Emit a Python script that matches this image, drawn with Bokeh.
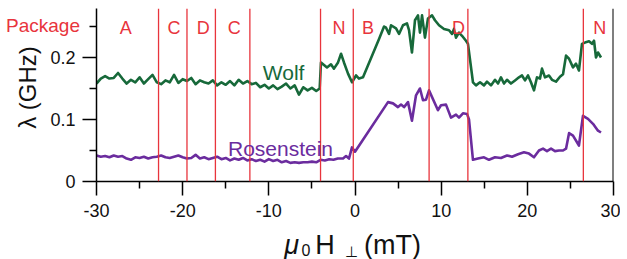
from bokeh.plotting import figure
from bokeh.models import Range1d, FixedTicker, Span, Label
from bokeh.core.properties import value
from bokeh.embed import file_html
from bokeh.resources import INLINE
import math

# ---------------- data ----------------
wolf_x = [-30.0, -29.5, -29.0, -28.5, -28.0, -27.5, -27.0, -26.5, -26.0, -25.5,
          -25.0, -24.5, -24.0, -23.5, -23.0, -22.5, -22.0, -21.5, -21.0, -20.5,
          -20.0, -19.5, -19.0, -18.5, -18.0, -17.5, -17.0, -16.5, -16.0, -15.5,
          -15.0, -14.5, -14.0, -13.5, -13.0, -12.5, -12.0, -11.5, -11.0, -10.5,
          -10.0, -9.5, -9.0, -8.5, -8.0, -7.5, -7.0, -6.5, -6.0, -5.5,
          -5.0, -4.5, -4.1, -3.95, -3.25, -2.79, -2.44, -1.97, -1.62, -1.28,
          -0.81, -0.35, 0.12, 0.46, 0.93, 2.79, 3.37, 3.6, 3.95, 4.18,
          4.76, 5.11, 5.57, 6.03, 6.27, 6.61, 6.96, 7.31, 7.54, 7.78,
          8.12, 8.47, 8.94, 9.28, 9.75, 10.33, 10.91, 11.26, 11.49, 11.72,
          12.07, 12.42, 12.88, 13.11, 13.69, 14.04, 14.51, 14.97, 15.32, 15.78,
          16.25, 16.6, 16.94, 17.29, 17.64, 18.1, 18.57, 19.03, 19.38, 19.73,
          20.08, 20.42, 20.77, 21.12, 21.47, 21.7, 22.05, 22.51, 22.86, 23.33,
          23.79, 24.14, 24.49, 24.84, 25.3, 25.65, 25.99, 26.34, 26.69, 27.16,
          27.5, 27.74, 27.97, 28.2, 28.55]
wolf_y = [0.158, 0.166, 0.170, 0.166, 0.167, 0.175, 0.166, 0.158, 0.164, 0.160,
          0.168, 0.158, 0.165, 0.172, 0.160, 0.157, 0.163, 0.160, 0.172, 0.159,
          0.165, 0.162, 0.167, 0.157, 0.163, 0.160, 0.158, 0.163, 0.155, 0.160,
          0.156, 0.162, 0.155, 0.164, 0.158, 0.162, 0.157, 0.159, 0.152, 0.156,
          0.150, 0.155, 0.149, 0.153, 0.158, 0.150, 0.155, 0.140, 0.152, 0.147,
          0.151, 0.146, 0.150, 0.192, 0.184, 0.189, 0.182, 0.192, 0.206, 0.192,
          0.174, 0.160, 0.171, 0.166, 0.168, 0.230, 0.250, 0.248, 0.238, 0.252,
          0.247, 0.238, 0.252, 0.255, 0.244, 0.208, 0.260, 0.268, 0.240, 0.268,
          0.232, 0.263, 0.268, 0.260, 0.252, 0.246, 0.244, 0.238, 0.246, 0.232,
          0.240, 0.235, 0.227, 0.222, 0.160, 0.155, 0.160, 0.155, 0.161, 0.155,
          0.164, 0.158, 0.168, 0.158, 0.164, 0.158, 0.163, 0.168, 0.171, 0.163,
          0.171, 0.160, 0.147, 0.168, 0.166, 0.182, 0.168, 0.171, 0.164, 0.161,
          0.169, 0.173, 0.203, 0.198, 0.184, 0.190, 0.179, 0.222, 0.224, 0.226,
          0.222, 0.227, 0.200, 0.208, 0.200]

ros_x = [-30.0, -29.5, -29.0, -28.5, -28.0, -27.5, -27.0, -26.5, -26.0, -25.5,
         -25.0, -24.5, -24.0, -23.5, -23.0, -22.5, -22.0, -21.5, -21.0, -20.5,
         -20.0, -19.5, -19.0, -18.5, -18.0, -17.5, -17.0, -16.5, -16.0, -15.5,
         -15.0, -14.5, -14.0, -13.5, -13.0, -12.5, -12.0, -11.5, -11.0, -10.5,
         -10.0, -9.5, -9.0, -8.5, -8.0, -7.5, -7.0, -6.5, -6.0, -5.5,
         -5.0, -4.5, -4.0, -3.5, -3.0, -2.5, -2.0, -1.39, -1.04, -0.7,
         -0.35, 0.0, 3.83, 4.41, 4.99, 5.34, 5.69, 6.15, 6.61, 7.08,
         7.54, 7.89, 8.24, 8.59, 9.63, 9.98, 10.56, 11.14, 11.72, 12.07,
         12.53, 13.0, 13.23, 13.69, 14.27, 14.97, 15.55, 16.25, 16.94, 17.64,
         18.22, 18.92, 19.61, 20.19, 20.77, 21.35, 21.82, 22.28, 22.75, 23.21,
         23.67, 24.14, 24.49, 24.84, 25.3, 25.99, 26.46, 27.04, 27.62, 28.2,
         28.55]
ros_y = [0.042, 0.040, 0.041, 0.039, 0.042, 0.040, 0.041, 0.037, 0.035, 0.039,
         0.038, 0.040, 0.037, 0.039, 0.040, 0.042, 0.039, 0.038, 0.040, 0.042,
         0.039, 0.037, 0.038, 0.043, 0.037, 0.039, 0.036, 0.038, 0.040, 0.036,
         0.038, 0.034, 0.037, 0.035, 0.038, 0.034, 0.036, 0.033, 0.035, 0.032,
         0.036, 0.033, 0.035, 0.031, 0.033, 0.030, 0.031, 0.030, 0.031, 0.031,
         0.032, 0.031, 0.035, 0.034, 0.036, 0.035, 0.037, 0.037, 0.041, 0.037,
         0.055, 0.048, 0.128, 0.126, 0.120, 0.124, 0.120, 0.128, 0.098, 0.139,
         0.150, 0.131, 0.132, 0.147, 0.115, 0.123, 0.124, 0.103, 0.108, 0.103,
         0.110, 0.109, 0.100, 0.035, 0.037, 0.039, 0.035, 0.039, 0.038, 0.042,
         0.040, 0.044, 0.047, 0.045, 0.039, 0.050, 0.053, 0.049, 0.053, 0.049,
         0.050, 0.050, 0.053, 0.078, 0.074, 0.058, 0.106, 0.101, 0.093, 0.082,
         0.079]

boundary_x = [-22.8, -19.5, -16.2, -12.2, -4.0, -0.2, 8.6, 13.1, 26.5]
region_x = [-26.6, -21.0, -17.6, -14.0, -1.86, 1.5, 12.0, 28.4]
region_labels = ["A", "C", "D", "C", "N", "B", "D", "N"]

x_ticks = [-30, -20, -10, 0, 10, 20, 30]
x_tick_labels = ["-30", "-20", "-10", "0", "10", "20", "30"]
y_ticks = [0, 0.1, 0.2]
y_tick_labels = ["0", "0.1", "0.2"]

GREEN = "#17693a"
PURPLE = "#6b2c9e"
RED = "#e8343c"
INK = "#111111"
FONT = "Liberation Sans"

p = figure(width=620, height=259, output_backend="svg", toolbar_location=None,
           x_range=Range1d(-30, 30), y_range=Range1d(0, 0.279),
           min_border_left=96, min_border_right=7, min_border_top=8,
           min_border_bottom=78)
p.outline_line_color = None
p.grid.visible = False
p.background_fill_color = "white"
p.border_fill_color = "white"

for ax in (p.xaxis[0], p.yaxis[0]):
    ax.axis_line_color = "black"
    ax.axis_line_width = 1.5
    ax.major_tick_line_color = "black"
    ax.major_tick_line_width = 1.5
    ax.minor_tick_line_color = "black"
    ax.minor_tick_line_width = 1.5
    ax.major_tick_out = 14
    ax.major_tick_in = 0
    ax.minor_tick_out = 7
    ax.minor_tick_in = 0
    ax.major_label_text_font = FONT
    ax.major_label_text_font_size = "18px"
    ax.major_label_text_color = INK

p.xaxis.ticker = FixedTicker(ticks=x_ticks, minor_ticks=[-25, -15, -5, 5, 15, 25])
p.xaxis.major_label_overrides = {t: l for t, l in zip(x_ticks, x_tick_labels)}
p.xaxis.major_label_standoff = 8
p.yaxis.ticker = FixedTicker(ticks=y_ticks, minor_ticks=[0.05, 0.15, 0.25])
p.yaxis.major_label_overrides = {t: l for t, l in zip(y_ticks, y_tick_labels)}
p.yaxis.major_label_standoff = 7

# right frame line
p.add_layout(Span(location=30, dimension="height", line_color="black", line_width=2))

# boundaries between packages
for bx in boundary_x:
    p.add_layout(Span(location=bx, dimension="height", line_color=RED, line_width=1.3))

p.line(wolf_x, wolf_y, line_color=GREEN, line_width=2.6, line_join="round")
p.line(ros_x, ros_y, line_color=PURPLE, line_width=2.6, line_join="round")

for rx, rl in zip(region_x, region_labels):
    p.add_layout(Label(x=rx, y=0.248, text=rl, text_align="center", text_baseline="alphabetic",
                       text_font=FONT, text_font_size="18px", text_color=RED))

p.add_layout(Label(x=-10.7, y=0.176, text="Wolf", text_align="left", text_baseline="alphabetic",
                   text_font=FONT, text_font_size="21px", text_color=GREEN))
p.add_layout(Label(x=-14.74, y=0.053, text="Rosenstein", text_align="left", text_baseline="alphabetic",
                   text_font=FONT, text_font_size="21px", text_color=PURPLE))


def outside(xs, ys, texts, size, color=INK, style="normal", align="left",
            baseline="alphabetic", angle=0.0):
    # text glyphs at overlay level, so that they may lie outside the frame
    p.text(x=xs, y=ys, text=texts, text_align=align, text_baseline=baseline, angle=angle,
           text_font=value(FONT), text_font_size=value(size), text_font_style=style,
           text_color=color, level="overlay")


outside([-40.5], [0.2516], ["Package"], "19px", color=RED)
outside([-38.0], [0.1516], ["λ (GHz)"], "24px", align="center", baseline="middle",
        angle=math.pi / 2)
outside([-8.2], [-0.1032], ["μ"], "27px", style="italic")
outside([-4.6, 1.04], [-0.1032, -0.1032], ["H", "(mT)"], "27px")
outside([-6.2], [-0.110], ["0"], "16px")
outside([-1.16], [-0.1125], ["⊥"], "15px")

open("out.html", "w").write(file_html(p, INLINE))
